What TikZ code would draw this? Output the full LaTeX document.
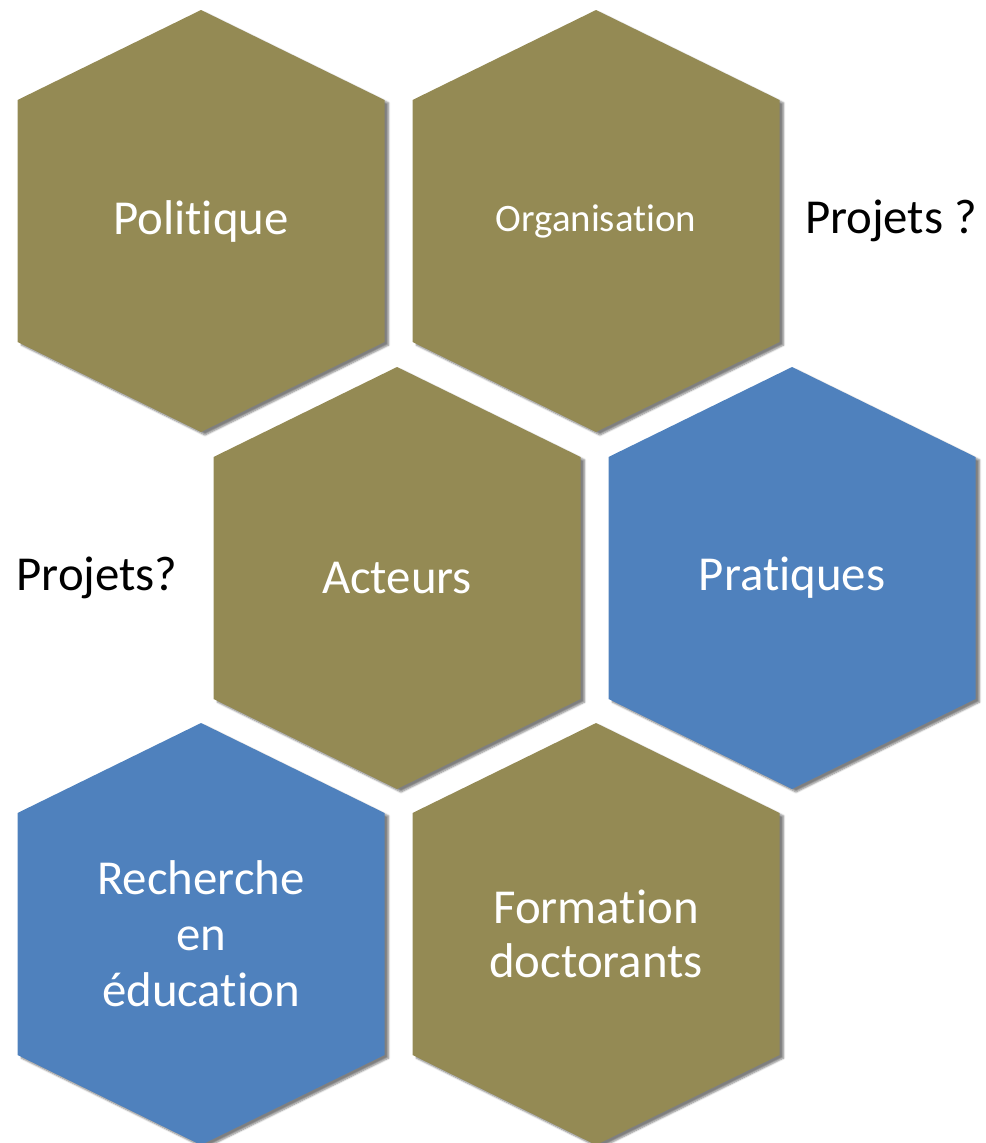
\documentclass[tikz,border=0pt]{standalone}
\usepackage{fontspec}
\setmainfont{Carlito}[Ligatures={NoCommon,NoContextual}]
\usetikzlibrary{positioning, shadows.blur, backgrounds}
\definecolor{olivebox}{HTML}{948A54}
\definecolor{bluebox}{HTML}{4F81BD}
\tikzstyle{hexlabel} = [text=white, align=center, inner sep=0pt, font=\fontsize{49}{56}\selectfont]
\tikzstyle{sidelabel} = [text=black, inner sep=0pt, font=\fontsize{49}{56}\selectfont]
\tikzstyle{hexshadow} = [blur shadow={shadow xshift=4bp, shadow yshift=-3bp, shadow blur steps=6, shadow opacity=50}]
\newcommand{\hexfill}[2]{%
  \fill[#2, hexshadow] (#1.center) ++(0,-211) -- ++(183.5,90) -- ++(0,242)
    -- ++(-183.5,90) -- ++(-183.5,-90) -- ++(0,-242) -- cycle;}

\begin{document}
\begin{tikzpicture}[x=1bp, y=-1bp, node distance=395bp]
    \useasboundingbox (0,0) rectangle (986,1143);
    % We start by placing the labels
    \node [hexlabel] (politique) at (201,221) {Politique};
    \node [hexlabel, font=\fontsize{39}{48}\selectfont, right of=politique] (organisation) {Organisation};
    \node [hexlabel] (acteurs) at (397,578) {Acteurs};
    \node [hexlabel, right of=acteurs] (pratiques) {Pratiques};
    \node [hexlabel] (recherche) at (201,934) {Recherche\\en\\éducation};
    \node [hexlabel, font=\fontsize{49}{54}\selectfont, right of=recherche] (formation) {Formation\\doctorants};
    \node [sidelabel] (projetsa) at (891,221) {Projets ?};
    \node [sidelabel] (projetsb) at (97,578) {Projets?};

    % then the hexagons behind them
    \begin{scope}[on background layer]
        \hexfill{politique}{olivebox}
        \hexfill{organisation}{olivebox}
        \hexfill{acteurs}{olivebox}
        \hexfill{pratiques}{bluebox}
        \hexfill{recherche}{bluebox}
        \hexfill{formation}{olivebox}
    \end{scope}
\end{tikzpicture}
\end{document}
